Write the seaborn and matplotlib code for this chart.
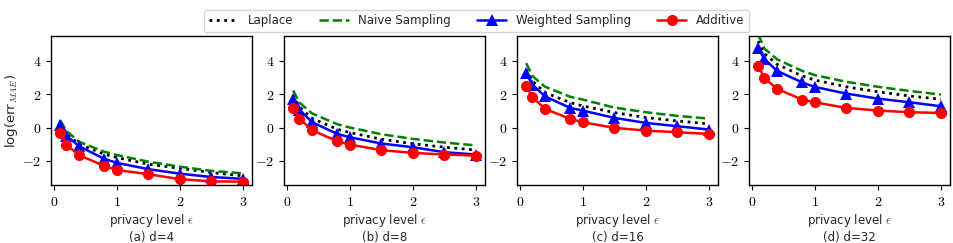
import matplotlib
matplotlib.use("Agg")
import matplotlib.pyplot as plt
import seaborn as sns
import numpy as np
import pandas as pd

sns.set_style("ticks")
plt.rcParams['font.family'] = ['DejaVu Sans']
plt.rcParams['mathtext.fontset'] = 'cm'

eps = [0.1, 0.2, 0.4, 0.8, 1.0, 1.5, 2.0, 2.5, 3.0]
panels = ["(a) d=4", "(b) d=8", "(c) d=16", "(d) d=32"]

laplace = [
    [0.30, -0.35, -1.00, -1.60, -1.80, -2.20, -2.45, -2.70, -2.90],
    [1.95, 1.25, 0.55, -0.10, -0.30, -0.70, -0.97, -1.18, -1.35],
    [3.50, 2.80, 2.10, 1.50, 1.30, 0.90, 0.60, 0.40, 0.22],
    [5.20, 4.45, 3.80, 3.10, 2.85, 2.45, 2.15, 1.90, 1.70],
]
naive = [
    [0.45, -0.20, -0.85, -1.45, -1.65, -2.05, -2.35, -2.60, -2.75],
    [2.23, 1.50, 0.85, 0.20, 0.00, -0.40, -0.68, -0.90, -1.07],
    [3.87, 3.10, 2.45, 1.85, 1.68, 1.20, 0.92, 0.70, 0.54],
    [5.60, 4.75, 4.10, 3.40, 3.15, 2.75, 2.45, 2.20, 1.98],
]
weighted = [
    [0.18, -0.48, -1.12, -1.88, -2.12, -2.50, -2.77, -2.97, -3.08],
    [1.72, 1.08, 0.32, -0.38, -0.58, -0.96, -1.18, -1.48, -1.62],
    [3.28, 2.57, 1.87, 1.18, 1.02, 0.58, 0.28, 0.08, -0.12],
    [4.77, 4.11, 3.41, 2.71, 2.44, 2.04, 1.74, 1.52, 1.28],
]
additive = [
    [-0.32, -1.02, -1.66, -2.30, -2.55, -2.80, -3.10, -3.23, -3.25],
    [1.18, 0.54, -0.16, -0.82, -1.02, -1.36, -1.52, -1.62, -1.68],
    [2.51, 1.82, 1.12, 0.52, 0.32, -0.02, -0.18, -0.28, -0.38],
    [3.71, 2.98, 2.32, 1.68, 1.52, 1.18, 1.02, 0.92, 0.88],
]

xticks = [0, 1, 2, 3]
yticks = [-2, 0, 2, 4]

fig = plt.figure(figsize=(9.54, 2.43), dpi=100)
lefts = [51, 284, 517, 749]
W, H = 954, 243
ax_w = 201
ax_top, ax_bot = 36, 185

for i in range(4):
    ax = fig.add_axes([lefts[i] / W, (H - ax_bot) / H, ax_w / W, (ax_bot - ax_top) / H])
    sns.lineplot(x=eps, y=laplace[i], ax=ax, color="black", linestyle=":", linewidth=2,
                 label="Laplace")
    sns.lineplot(x=eps, y=naive[i], ax=ax, color="green", linestyle="--", linewidth=1.8,
                 label="Naive Sampling")
    sns.lineplot(x=eps, y=weighted[i], ax=ax, color="blue", linewidth=1.8, marker="^",
                 markersize=8, markeredgecolor="blue", markeredgewidth=0,
                 label="Weighted Sampling")
    sns.lineplot(x=eps, y=additive[i], ax=ax, color="red", linewidth=1.8, marker="o",
                 markersize=8, markeredgecolor="red", markeredgewidth=0,
                 label="Additive")
    ax.set_ylim(-3.45, 5.5)
    ax.set_xlim(-0.045, 3.145)
    ax.set_xticks(xticks)
    ax.set_xticklabels([f"${t}$" for t in xticks], fontsize=10)
    ax.set_yticks(yticks)
    ax.set_yticklabels([f"${t}$" for t in yticks], fontsize=10)
    ax.set_xlabel("privacy level $\\epsilon$\n" + panels[i], fontsize=8.5, labelpad=2,
                  linespacing=1.25)
    if i == 0:
        ax.set_ylabel("log(err$_{MAE}$)", fontsize=9.5)
        ax.yaxis.set_label_coords(-0.155, 0.5)
    for s in ax.spines.values():
        s.set_visible(True)
        s.set_linewidth(1.0)
        s.set_color("black")
    ax.tick_params(length=3.5, width=0.8, color="black", labelcolor="black")
    handles, labels = ax.get_legend_handles_labels()
    ax.get_legend().remove()

fig.legend(handles, labels, loc="upper center", bbox_to_anchor=(0.4995, 0.985), ncol=4,
           fontsize=8.5, frameon=True, handlelength=2.5, columnspacing=2.2)

fig.savefig("out.png", dpi=100)
